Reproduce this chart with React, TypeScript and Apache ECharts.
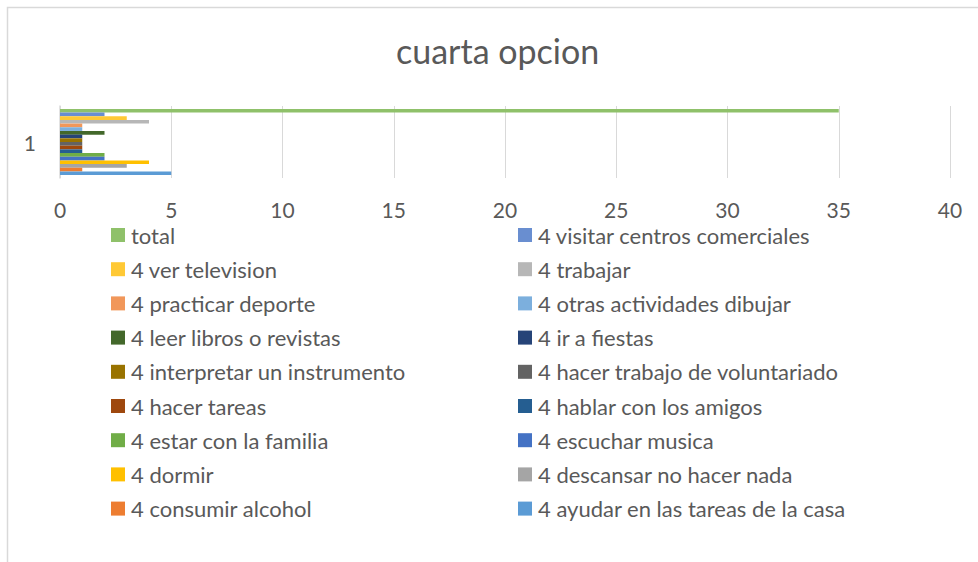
import React, { useEffect, useRef } from "react";
import * as echarts from "echarts";

const title = "cuarta opcion";
const categories = ["1"];
const seriesNames = [
  "total",
  "4 visitar centros comerciales",
  "4 ver television",
  "4 trabajar",
  "4 practicar deporte",
  "4 otras actividades dibujar",
  "4 leer libros o revistas",
  "4 ir a fiestas",
  "4 interpretar un instrumento",
  "4 hacer trabajo de voluntariado",
  "4 hacer tareas",
  "4 hablar con los amigos",
  "4 estar con la familia",
  "4 escuchar musica",
  "4 dormir",
  "4 descansar no hacer nada",
  "4 consumir alcohol",
  "4 ayudar en las tareas de la casa",
];
const seriesValues = [35, 2, 3, 4, 1, 1, 2, 1, 1, 1, 1, 1, 2, 2, 4, 3, 1, 5];
const seriesColors = [
  "#8fc16a", "#698ed0", "#ffc935", "#b7b7b7", "#f1975a", "#7cafdd",
  "#43682b", "#264478", "#997300", "#636363", "#9e480e", "#255e91",
  "#70ad47", "#4472c4", "#ffc000", "#a5a5a5", "#ed7d31", "#5b9bd5",
];
const xTicks = { min: 0, max: 40, interval: 5 };

const FONT = "Lato, 'Open Sans', sans-serif";
const TEXT = "#595959";

export default function App() {
  const ref = useRef<HTMLDivElement>(null);
  useEffect(() => {
    if (!ref.current) return;
    const chart = echarts.init(ref.current, null, { renderer: "svg" });
    const leftNames = seriesNames.filter((_, i) => i % 2 === 0);
    const rightNames = seriesNames.filter((_, i) => i % 2 === 1);
    const legendCommon = {
      orient: "vertical" as const,
      top: 224,
      itemWidth: 14,
      itemHeight: 14,
      itemGap: 12.2,
      icon: "rect",
      textStyle: { color: TEXT, fontSize: 22, fontFamily: FONT, lineHeight: 22, padding: [0, 0, 0, 1] },
      padding: 0,
    };
    chart.setOption({
      animation: false,
      textStyle: { fontFamily: FONT },
      title: {
        text: title,
        left: 391,
        top: 28,
        textStyle: { color: TEXT, fontSize: 34, fontWeight: "normal", fontFamily: FONT },
      },
      graphic: [
        {
          type: "rect",
          shape: { x: 7.5, y: 7.5, width: 1100, height: 700 },
          style: { fill: "none", stroke: "#d9d9d9", lineWidth: 1.5 },
          silent: true,
        },
      ],
      legend: [
        { ...legendCommon, left: 111, data: leftNames },
        { ...legendCommon, left: 518, data: rightNames },
      ],
      grid: { left: 60, right: 28, top: 106, height: 72, containLabel: false },
      xAxis: {
        type: "value",
        min: xTicks.min,
        max: xTicks.max,
        interval: xTicks.interval,
        axisLine: { show: false },
        axisTick: { show: false },
        axisLabel: { color: TEXT, fontSize: 21, fontFamily: FONT, margin: 21 },
        splitLine: { lineStyle: { color: "#d9d9d9", width: 1 } },
      },
      yAxis: {
        type: "category",
        data: categories,
        axisLine: { lineStyle: { color: "#d9d9d9", width: 1.5 } },
        axisTick: { show: false },
        axisLabel: { color: TEXT, fontSize: 21, fontFamily: FONT, margin: 24 },
      },
      series: seriesNames.map((name, i) => ({
        name,
        type: "bar",
        data: [seriesValues[i]],
        itemStyle: { color: seriesColors[i] },
        barGap: "0%",
        barCategoryGap: "8%",
      })),
    });
    return () => chart.dispose();
  }, []);
  return (
    <div
      ref={ref}
      style={{ position: "fixed", left: 0, top: 0, width: 978, height: 562, background: "#fff" }}
    />
  );
}
